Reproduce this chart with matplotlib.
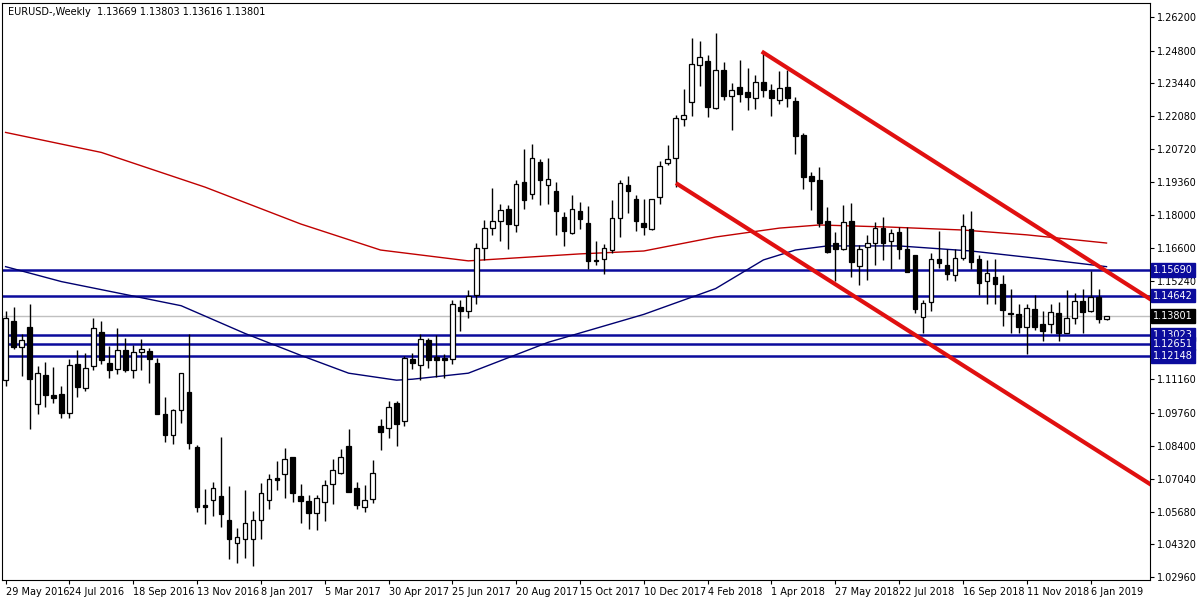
import matplotlib
matplotlib.use("Agg")
import matplotlib.pyplot as plt
import numpy as np

# weekly OHLC
opens = [1.1113, 1.1357, 1.1249, 1.1332, 1.1014, 1.1133, 1.1051, 1.1055, 1.0976, 1.1179,
         1.1080, 1.1171, 1.1311, 1.1183, 1.1158, 1.1237, 1.1154, 1.1229, 1.1233, 1.1183,
         1.0972, 1.0886, 1.0989, 1.1063, 1.0836, 1.0596, 1.0617, 1.0634, 1.0534, 1.0439,
         1.0456, 1.0456, 1.0534, 1.0617, 1.0708, 1.0725, 1.0795, 1.0634, 1.0613, 1.0563,
         1.0609, 1.0683, 1.0729, 1.0840, 1.0667, 1.0588, 1.0621, 1.0923, 1.0914, 1.1018,
         1.0943, 1.1200, 1.1175, 1.1278, 1.1208, 1.1204, 1.1200, 1.1418, 1.1398, 1.1468,
         1.1662, 1.1744, 1.1773, 1.1823, 1.1757, 1.1934, 1.1885, 1.2017, 1.1922, 1.1897,
         1.1790, 1.1724, 1.1815, 1.1765, 1.1612, 1.1616, 1.1653, 1.1785, 1.1922, 1.1864,
         1.1765, 1.1740, 1.1872, 1.2013, 1.2034, 1.2195, 1.2269, 1.2422, 1.2438, 1.2244,
         1.2401, 1.2294, 1.2331, 1.2310, 1.2282, 1.2352, 1.2319, 1.2277, 1.2331, 1.2273,
         1.2129, 1.1959, 1.1943, 1.1773, 1.1682, 1.1658, 1.1773, 1.1588, 1.1666, 1.1682,
         1.1744, 1.1691, 1.1728, 1.1658, 1.1633, 1.1377, 1.1439, 1.1616, 1.1592, 1.1550,
         1.1621, 1.1740, 1.1616, 1.1526, 1.1542, 1.1513, 1.1390, 1.1386, 1.1332, 1.1410,
         1.1344, 1.1348, 1.1390, 1.1307, 1.1373, 1.1443, 1.1402, 1.1460, 1.13669]
highs = [1.1398, 1.1418, 1.1303, 1.1427, 1.1171, 1.1187, 1.1167, 1.1088, 1.1200, 1.1237,
         1.1224, 1.1369, 1.1357, 1.1253, 1.1328, 1.1286, 1.1258, 1.1282, 1.1245, 1.1204,
         1.1043, 1.0993, 1.1142, 1.1303, 1.0844, 1.0663, 1.0691, 1.0877, 1.0675, 1.0501,
         1.0658, 1.0572, 1.0687, 1.0725, 1.0778, 1.0832, 1.0795, 1.0683, 1.0638, 1.0638,
         1.0700, 1.0787, 1.0828, 1.0910, 1.0691, 1.0679, 1.0782, 1.0952, 1.1026, 1.1026,
         1.1212, 1.1224, 1.1303, 1.1286, 1.1299, 1.1220, 1.1447, 1.1447, 1.1489, 1.1682,
         1.1777, 1.1910, 1.1844, 1.1839, 1.1943, 1.2071, 1.2091, 1.2029, 1.2034, 1.1934,
         1.1810, 1.1881, 1.1852, 1.1835, 1.1691, 1.1678, 1.1860, 1.1943, 1.1959, 1.1881,
         1.1864, 1.1864, 1.2021, 1.2087, 1.2215, 1.2323, 1.2533, 1.2521, 1.2463, 1.2554,
         1.2434, 1.2348, 1.2443, 1.2410, 1.2381, 1.2472, 1.2343, 1.2397, 1.2401, 1.2290,
         1.2137, 1.1976, 1.1996, 1.1831, 1.1728, 1.1839, 1.1848, 1.1674, 1.1716, 1.1769,
         1.1790, 1.1740, 1.1748, 1.1748, 1.1633, 1.1447, 1.1641, 1.1732, 1.1658, 1.1658,
         1.1802, 1.1815, 1.1633, 1.1612, 1.1616, 1.1550, 1.1493, 1.1427, 1.1427, 1.1468,
         1.1402, 1.1427, 1.1439, 1.1489, 1.1476, 1.1493, 1.1567, 1.1493, 1.13803]
lows = [1.1088, 1.1241, 1.1129, 1.0910, 1.0972, 1.1001, 1.1018, 1.0956, 1.0956, 1.1043,
        1.1067, 1.1154, 1.1179, 1.1121, 1.1138, 1.1146, 1.1121, 1.1154, 1.1100, 1.0972,
        1.0857, 1.0848, 1.0935, 1.0828, 1.0567, 1.0518, 1.0551, 1.0505, 1.0369, 1.0353,
        1.0377, 1.0341, 1.0456, 1.0580, 1.0658, 1.0625, 1.0609, 1.0522, 1.0497, 1.0493,
        1.0530, 1.0601, 1.0725, 1.0650, 1.0580, 1.0567, 1.0605, 1.0824, 1.0873, 1.0840,
        1.0923, 1.1158, 1.1113, 1.1162, 1.1125, 1.1121, 1.1179, 1.1315, 1.1369, 1.1431,
        1.1612, 1.1716, 1.1691, 1.1658, 1.1728, 1.1823, 1.1864, 1.1839, 1.1844, 1.1716,
        1.1670, 1.1720, 1.1740, 1.1575, 1.1592, 1.1555, 1.1641, 1.1707, 1.1806, 1.1732,
        1.1716, 1.1736, 1.1844, 1.2005, 1.1914, 1.2166, 1.2211, 1.2335, 1.2203, 1.2240,
        1.2277, 1.2153, 1.2269, 1.2236, 1.2240, 1.2286, 1.2211, 1.2257, 1.2248, 1.2050,
        1.1906, 1.1819, 1.1748, 1.1641, 1.1526, 1.1653, 1.1542, 1.1509, 1.1530, 1.1592,
        1.1612, 1.1575, 1.1616, 1.1563, 1.1390, 1.1307, 1.1398, 1.1579, 1.1530, 1.1526,
        1.1612, 1.1575, 1.1468, 1.1431, 1.1431, 1.1336, 1.1307, 1.1307, 1.1220, 1.1323,
        1.1274, 1.1307, 1.1274, 1.1307, 1.1344, 1.1307, 1.1394, 1.1352, 1.13616]
closes = [1.1369, 1.1249, 1.1278, 1.1117, 1.1142, 1.1051, 1.1038, 1.0976, 1.1175, 1.1084,
          1.1162, 1.1328, 1.1196, 1.1154, 1.1237, 1.1154, 1.1229, 1.1241, 1.1200, 1.0972,
          1.0886, 1.0989, 1.1142, 1.0853, 1.0588, 1.0588, 1.0667, 1.0559, 1.0452, 1.0464,
          1.0522, 1.0534, 1.0646, 1.0704, 1.0700, 1.0787, 1.0646, 1.0613, 1.0563, 1.0625,
          1.0679, 1.0741, 1.0795, 1.0650, 1.0596, 1.0617, 1.0729, 1.0898, 1.1001, 1.0931,
          1.1204, 1.1183, 1.1282, 1.1196, 1.1196, 1.1196, 1.1427, 1.1402, 1.1464, 1.1662,
          1.1744, 1.1773, 1.1819, 1.1761, 1.1926, 1.1860, 1.2034, 1.1943, 1.1947, 1.1815,
          1.1732, 1.1823, 1.1781, 1.1608, 1.1608, 1.1662, 1.1785, 1.1930, 1.1897, 1.1773,
          1.1748, 1.1864, 1.2000, 1.2029, 1.2199, 1.2215, 1.2426, 1.2455, 1.2248, 1.2401,
          1.2294, 1.2315, 1.2302, 1.2290, 1.2352, 1.2319, 1.2282, 1.2327, 1.2282, 1.2125,
          1.1955, 1.1939, 1.1765, 1.1645, 1.1658, 1.1769, 1.1604, 1.1658, 1.1682, 1.1744,
          1.1682, 1.1724, 1.1658, 1.1563, 1.1410, 1.1435, 1.1616, 1.1600, 1.1555, 1.1621,
          1.1753, 1.1604, 1.1517, 1.1559, 1.1513, 1.1406, 1.1386, 1.1332, 1.1414, 1.1332,
          1.1319, 1.1394, 1.1307, 1.1369, 1.1443, 1.1394, 1.1460, 1.1365, 1.13801]

# moving averages, points (bar index, price)
ma_red_idx = [0, 12, 25, 37, 47, 58, 72, 80, 89, 97, 102, 111, 120, 128, 138]
ma_red_val = [1.2141, 1.2058, 1.1914, 1.1761, 1.1653, 1.1608, 1.1637, 1.1649, 1.1707,
              1.1744, 1.1757, 1.1748, 1.1736, 1.1716, 1.1682]
ma_blue_idx = [0, 7, 22, 30, 37, 43, 49, 51, 58, 68, 80, 89, 95, 99, 103, 112, 121, 130, 138]
ma_blue_val = [1.1584, 1.1522, 1.1422, 1.1307, 1.1216, 1.1142, 1.1113, 1.1117, 1.1142,
               1.1270, 1.1386, 1.1493, 1.1612, 1.1653, 1.1670, 1.1670, 1.1649, 1.1616, 1.1584]

levels = [1.15690, 1.14642, 1.13023, 1.12651, 1.12148]
last_price = 1.13801

# channel lines (bar index, price)
upper_line = ([95, 143.4], [1.2472, 1.1451])
lower_line = ([84.25, 143.4], [1.1926, 1.0683])

ytick_vals = [1.26200, 1.24800, 1.23440, 1.22080, 1.20720, 1.19360, 1.18000, 1.16600,
              1.15240, 1.11160, 1.09760, 1.08400, 1.07040, 1.05680, 1.04320, 1.02960]
xtick_idx = list(range(0, 137, 8))
xtick_lbl = ["29 May 2016", "24 Jul 2016", "18 Sep 2016", "13 Nov 2016", "8 Jan 2017",
             "5 Mar 2017", "30 Apr 2017", "25 Jun 2017", "20 Aug 2017", "15 Oct 2017",
             "10 Dec 2017", "4 Feb 2018", "1 Apr 2018", "27 May 2018", "22 Jul 2018",
             "16 Sep 2018", "11 Nov 2018", "6 Jan 2019"]

plt.rcParams["font.family"] = "DejaVu Sans"
fig = plt.figure(figsize=(12, 6), dpi=100)
ax = fig.add_axes([0.002, 0.033, 0.956, 0.962])
navy = "#0b0b9c"

for lv in levels:
    ax.axhline(lv, color=navy, lw=1.8, zorder=1)
ax.axhline(last_price, color="#c0c0c0", lw=1, zorder=1)

ax.plot(ma_red_idx, ma_red_val, color="#c00000", lw=1, zorder=2)
ax.plot(ma_blue_idx, ma_blue_val, color="#000070", lw=1, zorder=2)

for i, (o, h, l, c) in enumerate(zip(opens, highs, lows, closes)):
    ax.vlines(i, l, h, color="black", lw=1, zorder=3)
    face = "white" if c >= o else "black"
    bot, top = min(o, c), max(o, c)
    ax.bar(i, max(top - bot, 0.0003), bottom=bot, width=0.58, facecolor=face,
           edgecolor="black", lw=0.9, zorder=4)

ax.plot(*upper_line, color="#e01010", lw=3, zorder=5)
ax.plot(*lower_line, color="#e01010", lw=3, zorder=5)

ax.set_xlim(-0.4, 143.4)
ax.set_ylim(1.0283, 1.2678)
ax.yaxis.tick_right()
ax.set_yticks(ytick_vals)
ax.set_yticklabels([f"{v:.5f}" for v in ytick_vals], fontsize=7)
ax.set_xticks(xtick_idx)
ax.set_xticklabels(xtick_lbl, fontsize=7, ha="left")
ax.tick_params(length=3, pad=2)

for lv in levels:
    ax.text(1.003, lv, f"{lv:.5f}", transform=ax.get_yaxis_transform(), fontsize=7,
            color="white", va="center", ha="left",
            bbox=dict(boxstyle="square,pad=0.2", fc=navy, ec=navy))
ax.text(1.003, last_price, f"{last_price:.5f}", transform=ax.get_yaxis_transform(),
        fontsize=7, color="white", va="center", ha="left",
        bbox=dict(boxstyle="square,pad=0.2", fc="black", ec="black"))

ax.text(0.005, 0.993, "EURUSD-,Weekly  1.13669 1.13803 1.13616 1.13801",
        transform=ax.transAxes, fontsize=7, va="top", ha="left")

fig.savefig("out.png", dpi=100)
